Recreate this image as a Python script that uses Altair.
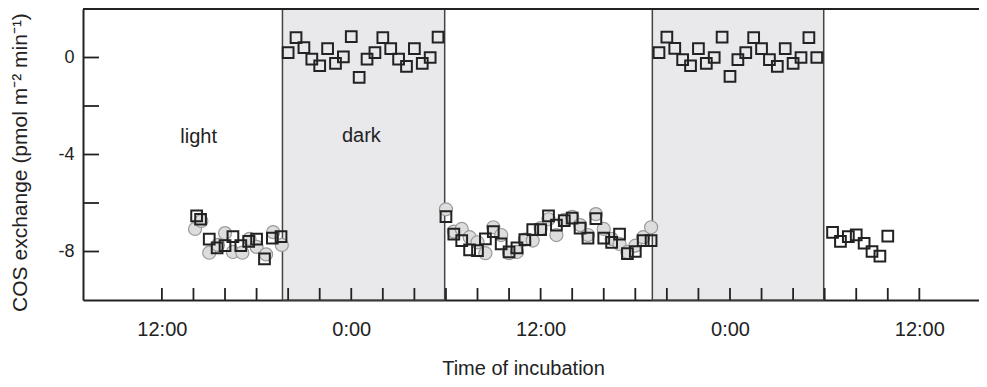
import altair as alt
import pandas as pd

# ---- data ----
# squares (open): hours since start, COS exchange
sq_hours = [14.2, 14.45, 15.0, 15.5, 16.0, 16.5, 17.0, 17.5, 18.0, 18.5, 19.0, 19.55,
            20.0, 20.5, 21.0, 21.5, 22.0, 22.5, 23.0, 23.5, 24.0, 24.5, 25.0, 25.5, 26.0, 26.5, 27.0, 27.5, 28.0, 28.5, 29.0, 29.5,
            30.0, 30.5, 31.0, 31.5, 32.0, 32.5, 33.0, 33.5, 34.0, 34.5, 35.0, 35.5, 36.0, 36.5, 37.0, 37.5, 38.0, 38.5, 39.0, 39.5,
            40.0, 40.5, 41.0, 41.5, 42.0, 42.5, 43.0,
            43.5, 44.0, 44.5, 45.0, 45.5, 46.0, 46.5, 47.0, 47.5, 48.0, 48.5, 49.0, 49.5, 50.0, 50.5, 51.0, 51.5, 52.0, 52.5, 53.0, 53.5,
            54.5, 55.0, 55.5, 56.0, 56.5, 57.0, 57.5, 58.0]
sq_values = [-6.53, -6.67, -7.49, -7.85, -7.76, -7.39, -7.76, -7.58, -7.49, -8.30, -7.45, -7.39,
             0.20, 0.82, 0.41, -0.07, -0.34, 0.37, -0.24, 0.03, 0.86, -0.82, -0.07, 0.20, 0.82, 0.37, -0.07, -0.37, 0.37, -0.24, 0.0, 0.84,
             -6.56, -7.28, -7.55, -7.93, -7.96, -7.48, -7.18, -7.69, -8.02, -7.85, -7.51, -7.10, -7.10, -6.53, -6.91, -6.73, -6.62, -7.04, -7.45, -6.64,
             -7.45, -7.62, -7.28, -8.09, -8.00, -7.55, -7.55,
             0.20, 0.84, 0.38, -0.09, -0.34, 0.37, -0.24, 0.0, 0.84, -0.78, -0.09, 0.20, 0.82, 0.37, -0.09, -0.37, 0.37, -0.24, 0.0, 0.82, 0.0,
             -7.21, -7.58, -7.39, -7.31, -7.66, -8.00, -8.19, -7.37]

# circles (grey filled)
ci_hours = [14.1, 14.5, 15.0, 15.55, 16.0, 16.5, 17.1, 17.55, 18.0, 18.6, 19.05, 19.6,
            30.0, 30.5, 31.0, 31.5, 32.0, 32.5, 33.0, 33.5, 34.0, 34.5, 35.0, 35.5, 36.0, 36.5, 37.0, 37.5, 38.0, 38.5, 39.0, 39.5,
            40.0, 40.5, 41.0, 41.5, 42.0, 42.5, 43.0]
ci_values = [-7.07, -6.74, -8.05, -7.73, -7.24, -8.02, -8.05, -7.48, -7.81, -8.12, -7.20, -7.73,
             -6.26, -7.18, -7.07, -7.41, -7.62, -8.07, -7.00, -7.32, -8.07, -8.02, -7.51, -7.55, -7.04, -6.67, -7.32, -6.70, -6.57, -6.91, -7.32, -6.46,
             -7.07, -7.48, -7.69, -8.02, -7.76, -7.41, -7.00]

# dark periods (hours)
dark_start = [19.64, 43.08]
dark_end = [29.92, 53.94]

# axis ticks / labels
x_tick_values = list(range(12, 61, 2))
x_label_values = [12, 24, 36, 48, 60]
x_label_texts = ["12:00", "0:00", "12:00", "0:00", "12:00"]
y_tick_values = [0, -2, -4, -6, -8]
y_label_values = [0, -4, -8]
y_label_texts = ["0", "-4", "-8"]

# annotations
ann_texts = ["light", "dark"]
ann_hours = [14.33, 24.64]
ann_values = [-3.27, -3.24]

# ---- build chart ----
W, H = 896, 291
FONT = "Liberation Sans"
INK = "#222222"

sq_df = pd.DataFrame({"hour": sq_hours, "value": sq_values})
ci_df = pd.DataFrame({"hour": ci_hours, "value": ci_values})
dark_df = pd.DataFrame({"hour": dark_start, "end": dark_end})
xt_df = pd.DataFrame({"hour": x_tick_values})
yt_df = pd.DataFrame({"value": y_tick_values})
ann_df = pd.DataFrame({"text": ann_texts, "hour": ann_hours, "value": ann_values})

xscale = alt.Scale(domain=[7, 63.78], nice=False, zero=False)
yscale = alt.Scale(domain=[-10, 2], nice=False, zero=False)


def expr_map(vals, texts):
    s = "''"
    for v, t in reversed(list(zip(vals, texts))):
        s = f"datum.value == {v} ? '{t}' : ({s})"
    return s


x_axis = alt.Axis(values=x_label_values, labelExpr=expr_map(x_label_values, x_label_texts),
                  ticks=False, tickSize=0, labelPadding=19, labelFontSize=20, labelFont=FONT,
                  labelColor=INK, grid=False, domainColor=INK, domainWidth=2,
                  title="Time of incubation", titleFont=FONT, titleFontSize=20, titleFontWeight="normal",
                  titleColor=INK, titleX=440, titleY=74, titleBaseline="alphabetic")
y_axis = alt.Axis(values=y_label_values, labelExpr=expr_map(y_label_values, y_label_texts),
                  ticks=False, tickSize=0, labelPadding=9, labelFontSize=18, labelFont=FONT,
                  labelColor=INK, grid=False, domainColor=INK, domainWidth=2,
                  title="COS exchange (pmol m⁻² min⁻¹)", titleFont=FONT, titleFontSize=21,
                  titleFontWeight="normal", titleColor=INK, titleX=-63, titleY=153,
                  titleBaseline="middle", titleAngle=-90)

X = alt.X("hour:Q", scale=xscale, axis=x_axis, title="Time of incubation")
Y = alt.Y("value:Q", scale=yscale, axis=y_axis, title="COS exchange (pmol m⁻² min⁻¹)")

dark = alt.Chart(dark_df).mark_rect(fill="#e9e9ec", stroke="#444444", strokeWidth=1.5).encode(
    x=X,
    x2="end:Q",
    y=alt.value(0),
    y2=alt.value(H),
)

circles = alt.Chart(ci_df).mark_point(shape="circle", filled=True, fill="#dddddd", stroke="#9a9a9a",
                                      strokeWidth=1.2, size=170, opacity=1).encode(x=X, y=Y)

squares = alt.Chart(sq_df).mark_point(shape="square", filled=False, stroke=INK, strokeWidth=2,
                                      size=115, opacity=1).encode(x=X, y=Y)

xticks = alt.Chart(xt_df).mark_rule(color=INK, strokeWidth=1.8).encode(
    x=X,
    y=alt.value(H),
    y2=alt.value(H - 12),
)

yticks = alt.Chart(yt_df).mark_rule(color=INK, strokeWidth=1.8).encode(
    y=Y,
    x=alt.value(0),
    x2=alt.value(16),
)

top_line = alt.Chart(xt_df).mark_rule(color=INK, strokeWidth=2).encode(
    x=alt.value(0), x2=alt.value(W), y=alt.value(0)
)

ann = alt.Chart(ann_df).mark_text(font=FONT, fontSize=20, color=INK).encode(
    x=X, y=Y, text="text:N",
)

chart = alt.layer(dark, circles, squares, xticks, yticks, top_line, ann).properties(
    width=W, height=H,
    autosize=alt.AutoSizeParams(type="none"),
    padding={"left": 75, "top": 1, "right": 0, "bottom": 79},
).configure_view(stroke=None).configure(background="white")

chart.save("out.html", embed_options={"renderer": "svg", "actions": False})
